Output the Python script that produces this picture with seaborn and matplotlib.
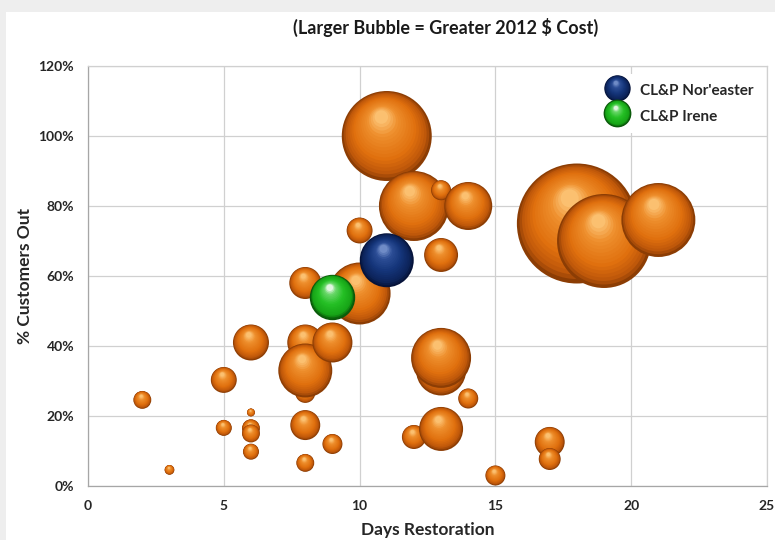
import numpy as np
import pandas as pd
import matplotlib
matplotlib.use("Agg")
import matplotlib.pyplot as plt
import seaborn as sns
from matplotlib.path import Path
from matplotlib.lines import Line2D
from matplotlib.legend_handler import HandlerTuple
from matplotlib.colors import LinearSegmentedColormap
from matplotlib.ticker import FuncFormatter
from matplotlib.patches import Rectangle

# ---------------- data ----------------
other_days = [11, 12, 13, 14, 10, 13, 8, 10, 18, 19, 21,
              6, 8, 8, 8, 9, 5, 2, 6, 5, 6, 6, 6, 8, 9, 8, 3,
              13, 13, 14, 12, 13, 15, 17, 17]
other_pct = [100, 80, 84.5, 80, 73, 66, 58, 55, 75, 70, 76,
             41, 41, 26.6, 33, 41, 30.3, 24.6, 21, 16.6, 16.5, 15, 9.8, 17.4, 12, 6.6, 4.6,
             33, 36.6, 25, 14, 16.3, 3, 12.6, 7.7]
other_cost = [506, 306, 25, 144, 42, 72, 64, 240, 900, 552, 342,
              81, 81, 25, 182, 100, 42, 20, 4, 16, 20, 20, 16, 56, 25, 20, 6,
              156, 225, 25, 36, 121, 25, 56, 30]

noreaster_days = [11]
noreaster_pct = [64.5]
noreaster_cost = [182]

irene_days = [9]
irene_pct = [54]
irene_cost = [121]

x_ticks = [0, 5, 10, 15, 20, 25]
y_ticks = [0, 20, 40, 60, 80, 100, 120]

title = "(Larger Bubble = Greater 2012 $ Cost)"
x_label = "Days Restoration"
y_label = "% Customers Out"
series_labels = ["CL&P Nor'easter", "CL&P Irene"]

# ---------------- style ----------------
COST_MAX = 900
S_MAX = 7465
N_LAYERS = 18
T = np.linspace(0, 1, N_LAYERS)

sns.set_theme(style="white")
plt.rcParams["font.family"] = ["Lato", "DejaVu Sans"]
plt.rcParams["font.weight"] = "bold"

orange_cmap = LinearSegmentedColormap.from_list(
    "orange", [(0, "#8c3d04"), (0.1, "#bd560a"), (0.35, "#e0700e"),
               (0.75, "#ee8e2c"), (1, "#fbc070")])
blue_cmap = LinearSegmentedColormap.from_list(
    "blue", [(0, "#06133a"), (0.12, "#0c2359"), (0.45, "#15357a"),
             (0.8, "#2c4e96"), (1, "#6f8bc6")])
green_cmap = LinearSegmentedColormap.from_list(
    "green", [(0, "#0b650b"), (0.1, "#16a316"), (0.5, "#25c025"),
              (0.85, "#6ad86a"), (1, "#e0f6e0")])


def sphere_marker(t):
    r = 1 - 0.85 * t
    cx, cy = -0.12 * t, 0.42 * t
    circ = Path.circle((cx, cy), r)
    verts = np.vstack([[[1, 0], [-1, 0], [0, 1], [0, -1]], circ.vertices])
    codes = np.concatenate([[Path.MOVETO] * 4, circ.codes])
    return Path(verts, codes)


MARKERS = [sphere_marker(t) for t in T]

fig = plt.figure(figsize=(7.75, 5.4), dpi=100)
fig.patch.set_facecolor("#eeeeee")
fig.patches.append(Rectangle((6 / 775, 0), 1, 1 - 12 / 540, transform=fig.transFigure,
                             facecolor="white", edgecolor="none", zorder=-10))
ax = fig.add_axes([88 / 775, 54 / 540, 679 / 775, 420 / 540])
ax.set_facecolor("white")


def draw_bubbles(days, pct, cost, cmap, edgecolor="none", lw=0):
    for i in range(len(days)):
        df = pd.DataFrame({"days": [days[i]], "pct": [pct[i]], "cost": [cost[i]]})
        n0 = len(ax.collections)
        sns.scatterplot(data=df, x="days", y="pct", size="cost", sizes=(0, S_MAX),
                        size_norm=(0, COST_MAX), marker=MARKERS[0], color=cmap(0.0),
                        edgecolor=edgecolor, linewidth=lw, legend=False, ax=ax,
                        clip_on=False, zorder=3)
        base = ax.collections[n0]
        s = base.get_sizes()
        for k in range(1, N_LAYERS):
            ax.scatter([days[i]], [pct[i]], s=s, marker=MARKERS[k], color=cmap(T[k]),
                       linewidths=0, edgecolors="none", clip_on=False, zorder=3)


draw_bubbles(other_days, other_pct, other_cost, orange_cmap)
draw_bubbles(noreaster_days, noreaster_pct, noreaster_cost, blue_cmap)
draw_bubbles(irene_days, irene_pct, irene_cost, green_cmap, edgecolor="#0a5a0a", lw=1.0)

ax.set_xlim(0, 25)
ax.set_ylim(0, 120)
ax.set_xticks(x_ticks)
ax.set_yticks(y_ticks)
ax.yaxis.set_major_formatter(FuncFormatter(lambda v, p: f"{v:.0f}%"))
ax.grid(True, color="#d0d0d0", linewidth=0.9)
ax.set_axisbelow(True)
for side in ["top", "right"]:
    ax.spines[side].set_color("#d0d0d0")
    ax.spines[side].set_linewidth(0.9)
for side in ["left", "bottom"]:
    ax.spines[side].set_color("#a6a6a6")
    ax.spines[side].set_linewidth(0.9)
ax.tick_params(axis="both", which="major", labelsize=10, colors="#262626",
               length=4, width=0.8, direction="out", pad=6)
ax.tick_params(axis="both", color="#a6a6a6")
for lab in ax.get_xticklabels() + ax.get_yticklabels():
    lab.set_fontweight("bold")
ax.set_xlabel(x_label, fontsize=12.5, fontweight="bold", color="#262626", labelpad=7)
ax.set_ylabel(y_label, fontsize=12.5, fontweight="bold", color="#262626", labelpad=4)

fig.text(446 / 775, 1 - 27 / 540, title, ha="center", va="center",
         fontsize=13, fontweight="bold", color="#1a1a1a")


def legend_handle(cmap, edgecolor="none", mew=0):
    hs = []
    for k in range(N_LAYERS):
        hs.append(Line2D([], [], linestyle="none", marker=MARKERS[k], markersize=19,
                         markerfacecolor=cmap(T[k]),
                         markeredgecolor=edgecolor if k == 0 else "none",
                         markeredgewidth=mew if k == 0 else 0))
    return tuple(hs)


handles = [legend_handle(blue_cmap), legend_handle(green_cmap, "#0a5a0a", 1.0)]
leg = ax.legend(handles, series_labels, handler_map={tuple: HandlerTuple(ndivide=1, pad=0)},
                loc="upper right", bbox_to_anchor=(1.0, 1.0), frameon=True, framealpha=1,
                facecolor="white", edgecolor="none", fontsize=11, handlelength=1.6,
                handleheight=1.8, labelspacing=0.25, handletextpad=0.7,
                borderpad=0.4, borderaxespad=0.5)
for txt in leg.get_texts():
    txt.set_fontweight("bold")
    txt.set_color("#262626")
leg.set_zorder(5)

fig.savefig("out.png", dpi=100, facecolor=fig.get_facecolor())
